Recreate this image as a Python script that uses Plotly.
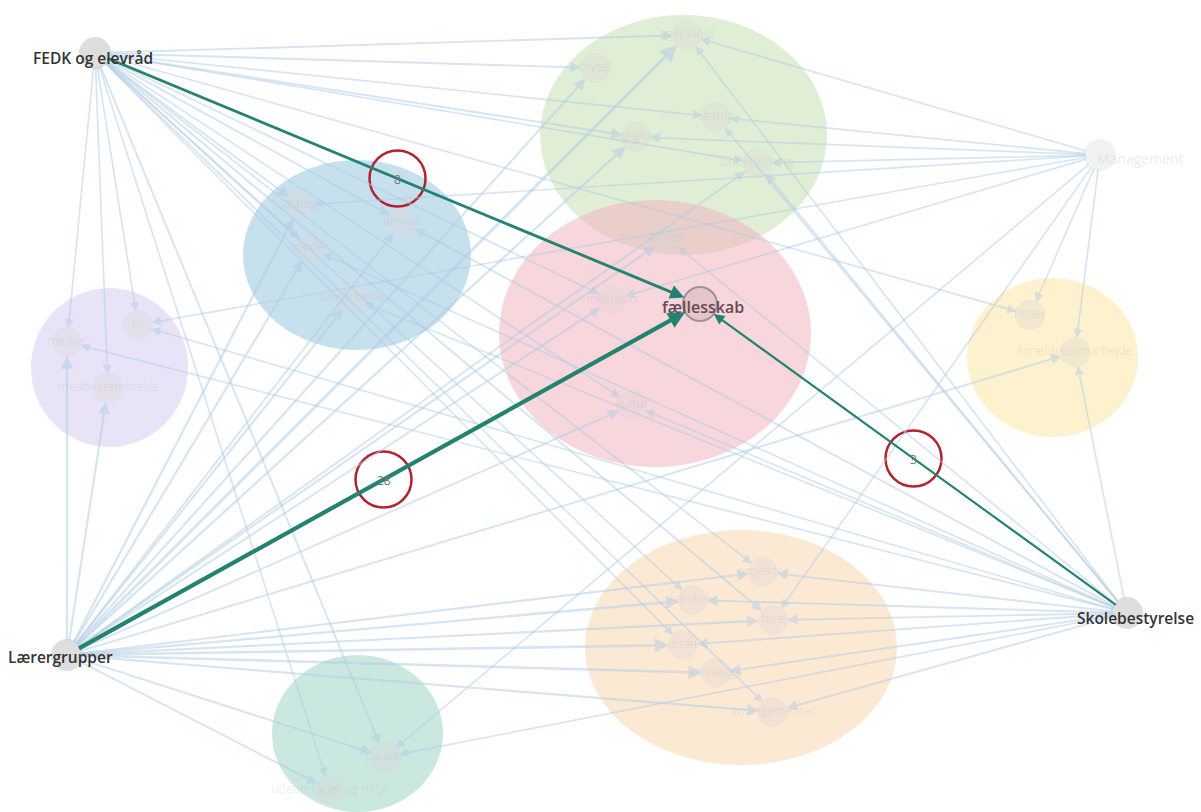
import math
import plotly.graph_objects as go

# ---------------- data ----------------
source_names = ["FEDK og elevråd", "Lærergrupper", "Skolebestyrelse", "Management"]

cluster_names = ["grøn", "blå", "rød", "lilla", "gul", "orange", "turkis"]

green_nodes = ["ugeplaner", "trivsel", "læring", "faglighed", "undervisning", "aftaler"]
red_nodes = ["fællesskab", "inklusion", "kultur"]
blue_nodes = ["dialog", "møder", "ansvar", "samarbejde"]
purple_nodes = ["medier", "ro", "medbestemmelse"]
yellow_nodes = ["fester", "forældresamarbejde"]
orange_nodes = ["projekter", "lejrskole", "ture", "idræt", "emneuge", "arrangementer"]
teal_nodes = ["pauser", "udeområder og miljø"]

# edges: (source, target, weight)
fedk_targets = ["ugeplaner", "trivsel", "læring", "faglighed", "undervisning", "dialog", "møder",
                "ansvar", "fællesskab", "inklusion", "kultur", "medier", "ro", "medbestemmelse",
                "projekter", "lejrskole", "ture", "idræt", "arrangementer", "pauser",
                "udeområder og miljø", "fester"]
fedk_weights = [2, 2, 1, 2, 1, 2, 1, 2, 8, 1, 1, 1, 1, 1, 1, 1, 2, 1, 1, 2, 1, 1]

laerer_targets = ["ugeplaner", "trivsel", "faglighed", "undervisning", "aftaler", "dialog", "møder",
                  "ansvar", "samarbejde", "fællesskab", "inklusion", "kultur", "medier",
                  "medbestemmelse", "projekter", "lejrskole", "ture", "idræt", "emneuge",
                  "arrangementer", "pauser", "udeområder og miljø", "forældresamarbejde"]
laerer_weights = [10, 3, 4, 2, 3, 4, 3, 2, 3, 28, 2, 2, 4, 3, 3, 4, 3, 6, 5, 3, 2, 2, 2]

skb_targets = ["ugeplaner", "læring", "undervisning", "møder", "ansvar", "samarbejde", "fællesskab",
               "kultur", "ro", "projekter", "lejrskole", "ture", "idræt", "emneuge",
               "arrangementer", "pauser", "forældresamarbejde", "aftaler", "medier"]
skb_weights = [1, 1, 2, 1, 2, 1, 3, 1, 1, 2, 2, 2, 2, 2, 2, 1, 1, 1, 1]

mgt_targets = ["ugeplaner", "læring", "undervisning", "dialog", "ro", "fester",
               "forældresamarbejde", "ture", "inklusion", "pauser", "faglighed"]
mgt_weights = [1, 1, 1, 1, 1, 1, 1, 1, 1, 1, 1]

highlight_target = "fællesskab"

# ---------------- layout (positions in px, styles) ----------------
W, H = 1201, 812
pos = {
    "FEDK og elevråd": (95, 53), "Lærergrupper": (67, 655),
    "Skolebestyrelse": (1127, 613), "Management": (1100, 155),
    "ugeplaner": (687, 35), "trivsel": (595, 68), "læring": (716, 117),
    "faglighed": (636, 137), "undervisning": (757, 163), "aftaler": (667, 238),
    "fællesskab": (700, 304), "inklusion": (612, 300), "kultur": (632, 405),
    "dialog": (300, 205), "møder": (310, 248), "ansvar": (402, 222), "samarbejde": (352, 298),
    "medier": (67, 342), "ro": (138, 325), "medbestemmelse": (108, 388),
    "fester": (1030, 315), "forældresamarbejde": (1075, 352),
    "projekter": (763, 572), "lejrskole": (693, 600), "ture": (773, 620),
    "idræt": (683, 645), "emneuge": (716, 673), "arrangementer": (773, 712),
    "pauser": (385, 757), "udeområder og miljø": (330, 790),
}
label_pos = {
    "FEDK og elevråd": (93, 58), "Lærergrupper": (60, 657),
    "Skolebestyrelse": (1135, 618), "Management": (1140, 158),
}
cluster_shapes = [  # (x0, y0, x1, y1, fill)
    (540, 15, 827, 255, "rgba(205,228,188,0.62)"),
    (243, 160, 471, 350, "rgba(165,205,228,0.62)"),
    (499, 200, 811, 467, "rgba(240,180,192,0.55)"),
    (31, 288, 188, 447, "rgba(218,210,242,0.62)"),
    (967, 278, 1138, 437, "rgba(252,232,176,0.62)"),
    (585, 530, 897, 765, "rgba(250,220,185,0.62)"),
    (272, 655, 443, 812, "rgba(170,218,205,0.62)"),
]

fig = go.Figure()

shapes = []
for x0, y0, x1, y1, col in cluster_shapes:
    shapes.append(dict(type="circle", xref="x", yref="y", x0=x0, y0=y0, x1=x1, y1=y1,
                       fillcolor=col, line=dict(width=0), layer="below"))

annotations = []
faint_col = "rgba(176,205,230,0.5)"
hi_col = "#248270"

edges = []
for s, tl, wl in [("FEDK og elevråd", fedk_targets, fedk_weights),
                  ("Lærergrupper", laerer_targets, laerer_weights),
                  ("Skolebestyrelse", skb_targets, skb_weights),
                  ("Management", mgt_targets, mgt_weights)]:
    for t, w in zip(tl, wl):
        edges.append((s, t, w))

def width_of(w):
    return 1.0 + 0.65 * math.sqrt(w)

# faint edges first
for s, t, w in edges:
    if t == highlight_target and s != "Management":
        continue
    sx, sy = pos[s]
    tx, ty = pos[t]
    annotations.append(dict(x=tx, y=ty, ax=sx, ay=sy, xref="x", yref="y", axref="x", ayref="y",
                            text="", showarrow=True, arrowhead=2, arrowsize=1.1,
                            arrowwidth=width_of(w), arrowcolor=faint_col,
                            standoff=14, startstandoff=13))
# highlighted edges
labels_hi = []
for s, t, w in edges:
    if t != highlight_target or s == "Management":
        continue
    sx, sy = pos[s]
    tx, ty = pos[t]
    annotations.append(dict(x=tx, y=ty, ax=sx, ay=sy, xref="x", yref="y", axref="x", ayref="y",
                            text="", showarrow=True, arrowhead=2, arrowsize=1.0 if w < 20 else 0.8,
                            arrowwidth=width_of(w) if w < 20 else 4.2, arrowcolor=hi_col,
                            standoff=17, startstandoff=12))
    mx, my = (sx + tx) / 2, (sy + ty) / 2
    labels_hi.append(dict(x=mx, y=my + 1, xref="x", yref="y", text=str(w), showarrow=False,
                          font=dict(family="Open Sans", size=12, color="#6f7c7c")))
    shapes.append(dict(type="circle", xref="x", yref="y", x0=mx - 28, y0=my - 28, x1=mx + 28,
                       y1=my + 28, line=dict(color="#b3222f", width=2.5), layer="above"))

# nodes
all_targets = green_nodes + red_nodes + blue_nodes + purple_nodes + yellow_nodes + orange_nodes + teal_nodes
faint_targets = [t for t in all_targets if t != highlight_target]
fig.add_trace(go.Scatter(
    x=[pos[t][0] for t in faint_targets], y=[pos[t][1] for t in faint_targets],
    mode="markers+text", text=faint_targets, textposition="middle center",
    textfont=dict(family="Open Sans", size=12, color="rgba(170,170,170,0.2)"),
    marker=dict(size=30, color="rgba(220,215,215,0.35)", line=dict(width=0)),
    hoverinfo="text", showlegend=False))
fig.add_trace(go.Scatter(
    x=[pos[s][0] for s in source_names[:3]], y=[pos[s][1] for s in source_names[:3]],
    mode="markers", marker=dict(size=32, color="#dedede", line=dict(width=0)),
    hoverinfo="skip", showlegend=False))
fig.add_trace(go.Scatter(
    x=[pos["Management"][0]], y=[pos["Management"][1]],
    mode="markers", marker=dict(size=32, color="rgba(230,230,230,0.5)", line=dict(width=0)),
    hoverinfo="skip", showlegend=False))
fig.add_trace(go.Scatter(
    x=[pos[highlight_target][0]], y=[pos[highlight_target][1]],
    mode="markers", marker=dict(size=34, color="#e5c4ca", line=dict(width=2, color="#9c9496")),
    hoverinfo="skip", showlegend=False))

annotations.extend(labels_hi)
for s in source_names[:3]:
    lx, ly = label_pos[s]
    annotations.append(dict(x=lx, y=ly, xref="x", yref="y", text=s, showarrow=False,
                            font=dict(family="Open Sans", size=15.5, color="#333333", weight=600)))
lx, ly = label_pos["Management"]
annotations.append(dict(x=lx, y=ly, xref="x", yref="y", text="Management", showarrow=False,
                        font=dict(family="Open Sans", size=14, color="rgba(190,190,190,0.3)")))
fx, fy = pos[highlight_target]
annotations.append(dict(x=fx + 3, y=fy + 3, xref="x", yref="y", text=highlight_target, showarrow=False,
                        font=dict(family="Open Sans", size=16, color="#6a4a52", weight=600)))

fig.update_layout(
    width=W, height=H, margin=dict(l=0, r=0, t=0, b=0),
    paper_bgcolor="white", plot_bgcolor="white",
    xaxis=dict(range=[0, W], visible=False, fixedrange=True),
    yaxis=dict(range=[H, 0], visible=False, fixedrange=True),
    shapes=shapes, annotations=annotations, showlegend=False,
)

fig.write_html("out.html", config={"displayModeBar": False},
               post_script="document.body.style.margin='0';")
